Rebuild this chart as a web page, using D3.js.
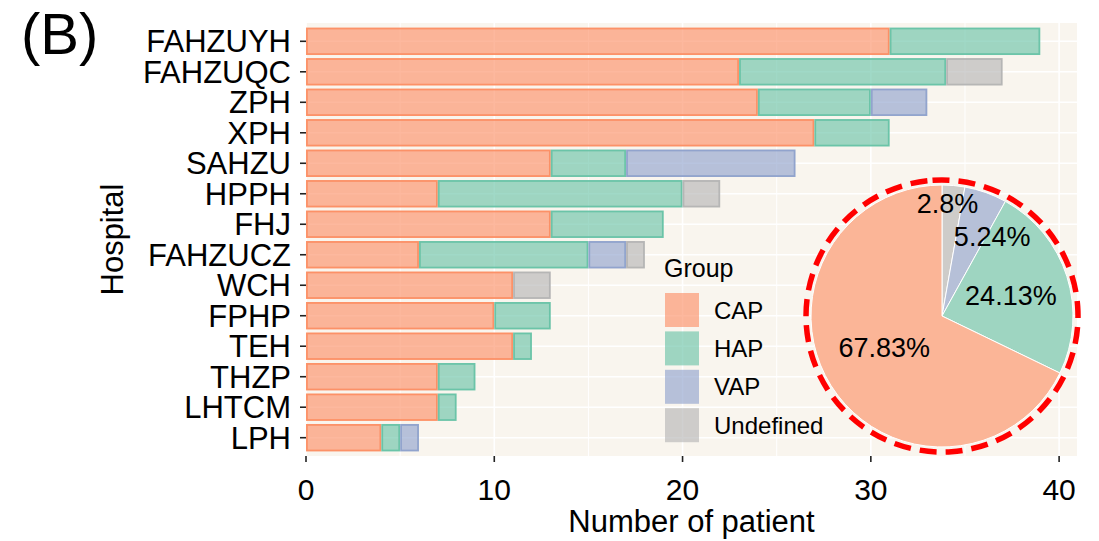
<!DOCTYPE html>
<html>
<head>
<meta charset="utf-8">
<script src="https://cdn.jsdelivr.net/npm/d3@7"></script>
<style>
  html, body { margin: 0; padding: 0; background: #ffffff; }
  svg { display: block; font-family: "Liberation Sans", Arial, Helvetica, sans-serif; }
</style>
</head>
<body>
<svg id="chart" width="1099" height="541"></svg>
<script>
// ---------------- data ----------------
const hospitals = ["FAHZUYH","FAHZUQC","ZPH","XPH","SAHZU","HPPH","FHJ","FAHZUCZ","WCH","FPHP","TEH","THZP","LHTCM","LPH"];
const groups = ["CAP","HAP","VAP","Undefined"];
const capValues       = [31,23,24,27,13, 7,13, 6,11,10,11, 7, 7, 4];
const hapValues       = [ 8,11, 6, 4, 4,13, 6, 9, 0, 3, 1, 2, 1, 1];
const vapValues       = [ 0, 0, 3, 0, 9, 0, 0, 2, 0, 0, 0, 0, 0, 1];
const undefinedValues = [ 0, 3, 0, 0, 0, 2, 0, 1, 2, 0, 0, 0, 0, 0];
const xTicks = [0,10,20,30,40];
const xMinorTicks = [5,15,25,35];
const pieGroups = ["Undefined","VAP","HAP","CAP"];
const piePercents = [2.8, 5.24, 24.13, 67.83];
const pieLabels = ["2.8%","5.24%","24.13%","67.83%"];

// ---------------- styles ----------------
const colors = {CAP:"#FC8D62", HAP:"#66C2A5", VAP:"#8DA0CB", Undefined:"#B3B3B3"};
const panelBg = "#F9F5EE";

const svg = d3.select("#chart");
const panel = {left:306, right:1077, top:23, bottom:456};

const rows = hospitals.map((h,i)=>({hospital:h, CAP:capValues[i], HAP:hapValues[i], VAP:vapValues[i], Undefined:undefinedValues[i]}));
const stack = d3.stack().keys(groups)(rows);
const maxTotal = d3.max(rows, r => r.CAP + r.HAP + r.VAP + r.Undefined);

const x = d3.scaleLinear().domain([0, maxTotal*1.05]).range([panel.left, panel.right]);
const yPoint = d3.scalePoint().domain(hospitals).range([panel.top, panel.bottom]).padding(0.6);
const step = yPoint.step();
const barH = step*0.9;

// panel background
svg.append("rect").attr("x",panel.left).attr("y",panel.top)
  .attr("width",panel.right-panel.left).attr("height",panel.bottom-panel.top)
  .attr("fill",panelBg);

// grid
const grid = svg.append("g");
grid.selectAll(".vmin").data(xMinorTicks).join("line")
  .attr("x1",d=>x(d)).attr("x2",d=>x(d)).attr("y1",panel.top).attr("y2",panel.bottom)
  .attr("stroke","#fff").attr("stroke-width",1);
grid.selectAll(".vmaj").data(xTicks).join("line")
  .attr("x1",d=>x(d)).attr("x2",d=>x(d)).attr("y1",panel.top).attr("y2",panel.bottom)
  .attr("stroke","#fff").attr("stroke-width",1.6);
grid.selectAll(".hmaj").data(hospitals).join("line")
  .attr("x1",panel.left).attr("x2",panel.right).attr("y1",d=>yPoint(d)).attr("y2",d=>yPoint(d))
  .attr("stroke","#fff").attr("stroke-width",1.6);

// bars
const barG = svg.append("g");
stack.forEach(layer => {
  const key = layer.key;
  barG.append("g").selectAll("rect")
    .data(layer.filter(d => d[1]-d[0] > 0))
    .join("rect")
    .attr("x", d => x(d[0]) + 0.9)
    .attr("width", d => x(d[1]) - x(d[0]) - 1.8)
    .attr("y", d => yPoint(d.data.hospital) - barH/2 + 0.9)
    .attr("height", barH - 1.8)
    .attr("fill", colors[key]).attr("fill-opacity",0.62)
    .attr("stroke", colors[key]).attr("stroke-opacity",0.95).attr("stroke-width",1.8);
});

// axes
const fontTick = 31;
const yAxisG = svg.append("g");
yAxisG.selectAll("line").data(hospitals).join("line")
  .attr("x1",panel.left-6).attr("x2",panel.left).attr("y1",d=>yPoint(d)).attr("y2",d=>yPoint(d))
  .attr("stroke","#222").attr("stroke-width",1.6);
yAxisG.selectAll("text").data(hospitals).join("text")
  .attr("x",panel.left-15).attr("y",d=>yPoint(d)).attr("dy","0.36em")
  .attr("text-anchor","end").attr("font-size",fontTick).attr("fill","#000").text(d=>d);

const xAxisG = svg.append("g");
xAxisG.selectAll("line").data(xTicks).join("line")
  .attr("x1",d=>x(d)).attr("x2",d=>x(d)).attr("y1",panel.bottom).attr("y2",panel.bottom+6)
  .attr("stroke","#222").attr("stroke-width",1.6);
xAxisG.selectAll("text").data(xTicks).join("text")
  .attr("x",d=>x(d)).attr("y",panel.bottom+44)
  .attr("text-anchor","middle").attr("font-size",30).attr("fill","#000").text(d=>d);

// titles
svg.append("text").attr("x",(panel.left+panel.right)/2).attr("y",532)
  .attr("text-anchor","middle").attr("font-size",31).text("Number of patient");
svg.append("text").attr("transform",`translate(123,${(panel.top+panel.bottom)/2}) rotate(-90)`)
  .attr("text-anchor","middle").attr("font-size",31).text("Hospital");
svg.append("text").attr("x",21).attr("y",54).attr("font-size",58).text("(B)");

// legend
const leg = svg.append("g").attr("transform","translate(665,0)");
leg.append("text").attr("x",-1).attr("y",277).attr("font-size",25).text("Group");
const legItems = leg.selectAll("g.item").data(groups).join("g")
  .attr("transform",(d,i)=>`translate(0,${293 + i*38.4})`);
legItems.append("rect").attr("width",34).attr("height",34)
  .attr("fill",d=>colors[d]).attr("fill-opacity",0.62);
legItems.append("text").attr("x",49).attr("y",17).attr("dy","0.36em")
  .attr("font-size",24).text(d=>d);

// pie
const cx = 942, cy = 316, R = 131;
const pieG = svg.append("g").attr("transform",`translate(${cx},${cy})`);
const pieData = d3.pie().sort(null).value(d=>d.v)(pieGroups.map((g,i)=>({g, v:piePercents[i], label:pieLabels[i]})));
const arc = d3.arc().innerRadius(0).outerRadius(R);
pieG.selectAll("path").data(pieData).join("path")
  .attr("d",arc)
  .attr("fill",d=>d3.interpolateRgb(panelBg, colors[d.data.g])(0.62))
  .attr("stroke","#fff").attr("stroke-width",1);
// dashed outline
pieG.append("circle").attr("r",R+5).attr("fill","none")
  .attr("stroke","#FF0000").attr("stroke-width",5.5)
  .attr("stroke-dasharray","17 9").attr("transform","rotate(-94)");
// labels (radius/angle tweaks per slice for placement)
const labelLayout = {Undefined:{r:0.86, da:-0.04}, VAP:{r:0.72, da:0.22}, HAP:{r:0.55, da:0.01}, CAP:{r:0.5, da:0.07}};
pieG.selectAll("text").data(pieData).join("text")
  .attr("transform", d => {
    const L = labelLayout[d.data.g];
    const a = (d.startAngle + d.endAngle)/2 + L.da;
    const rr = R*L.r;
    return `translate(${rr*Math.sin(a)},${-rr*Math.cos(a)})`;
  })
  .attr("text-anchor","middle").attr("dy","0.36em").attr("font-size",27)
  .text(d=>d.data.label);
</script>
</body>
</html>
